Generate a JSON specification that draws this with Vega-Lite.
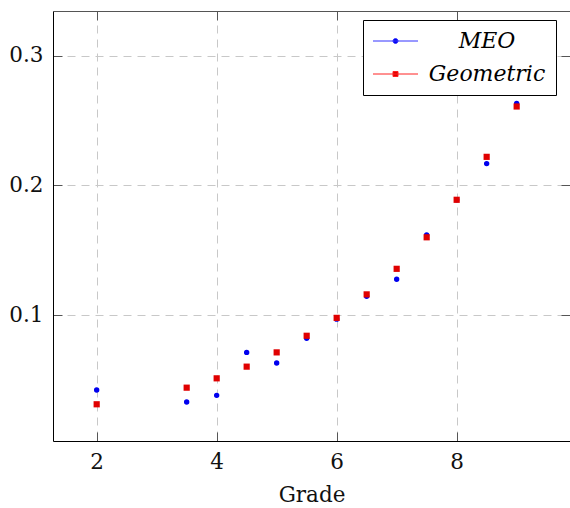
{
  "$schema": "https://vega.github.io/schema/vega-lite/v6.json",
  "width": 517,
  "height": 430,
  "autosize": "none",
  "padding": {"left": 53, "top": 11, "right": 0, "bottom": 67},
  "background": "white",
  "config": {"view": {"stroke": null}, "font": "DejaVu Serif"},
  "data": {"values": [
    {"grade": 2, "value": 0.0423, "series": "MEO"},
    {"grade": 3.5, "value": 0.0331, "series": "MEO"},
    {"grade": 4, "value": 0.0382, "series": "MEO"},
    {"grade": 4.5, "value": 0.0713, "series": "MEO"},
    {"grade": 5, "value": 0.0631, "series": "MEO"},
    {"grade": 5.5, "value": 0.0821, "series": "MEO"},
    {"grade": 6, "value": 0.0969, "series": "MEO"},
    {"grade": 6.5, "value": 0.1145, "series": "MEO"},
    {"grade": 7, "value": 0.1277, "series": "MEO"},
    {"grade": 7.5, "value": 0.1619, "series": "MEO"},
    {"grade": 8, "value": 0.1889, "series": "MEO"},
    {"grade": 8.5, "value": 0.2168, "series": "MEO"},
    {"grade": 9, "value": 0.2631, "series": "MEO"},
    {"grade": 2, "value": 0.0313, "series": "Geometric"},
    {"grade": 3.5, "value": 0.0441, "series": "Geometric"},
    {"grade": 4, "value": 0.0513, "series": "Geometric"},
    {"grade": 4.5, "value": 0.0603, "series": "Geometric"},
    {"grade": 5, "value": 0.0713, "series": "Geometric"},
    {"grade": 5.5, "value": 0.0841, "series": "Geometric"},
    {"grade": 6, "value": 0.0979, "series": "Geometric"},
    {"grade": 6.5, "value": 0.1160, "series": "Geometric"},
    {"grade": 7, "value": 0.1357, "series": "Geometric"},
    {"grade": 7.5, "value": 0.1600, "series": "Geometric"},
    {"grade": 8, "value": 0.1889, "series": "Geometric"},
    {"grade": 8.5, "value": 0.2220, "series": "Geometric"},
    {"grade": 9, "value": 0.2608, "series": "Geometric"}
  ]},
  "layer": [
    {
      "mark": {"type": "point", "opacity": 0},
      "encoding": {
        "x": {"field": "grade", "type": "quantitative",
          "scale": {"domain": [1.272, 9.889], "nice": false, "zero": false},
          "axis": {"orient": "top", "title": null, "labels": false, "grid": false, "values": [2, 4, 6, 8],
            "tickSize": -9, "tickColor": "#555", "domainColor": "#555", "domainWidth": 1}},
        "y": {"field": "value", "type": "quantitative",
          "scale": {"domain": [0.003, 0.3344], "nice": false, "zero": false},
          "axis": {"orient": "right", "title": null, "labels": false, "grid": false, "values": [0.1, 0.2, 0.3],
            "tickSize": -9, "tickColor": "#555", "domainColor": "#555", "domainWidth": 1}}
      }
    },
    {
      "transform": [{"filter": "datum.series === 'MEO'"}],
      "mark": {"type": "point", "filled": true, "opacity": 1, "size": 29, "shape": "circle", "color": "#0000ee"},
      "encoding": {
        "x": {"field": "grade", "type": "quantitative",
          "scale": {"domain": [1.272, 9.889], "nice": false, "zero": false},
          "axis": {"orient": "bottom", "title": "Grade", "values": [2, 4, 6, 8], "format": "d",
            "labelFont": "DejaVu Serif", "labelFontSize": 21.5, "labelColor": "#111", "labelPadding": 19,
            "titleFont": "DejaVu Serif", "titleFontSize": 21.5, "titleFontWeight": "normal", "titleColor": "#111", "titlePadding": 12,
            "tickSize": -9, "tickColor": "#555", "domainColor": "#000", "domainWidth": 1,
            "grid": true, "gridColor": "#c8c8c8", "gridDash": [8, 6], "gridWidth": 1}},
        "y": {"field": "value", "type": "quantitative",
          "scale": {"domain": [0.003, 0.3344], "nice": false, "zero": false},
          "axis": {"orient": "left", "title": null, "values": [0.1, 0.2, 0.3], "format": ".1f",
            "labelFont": "DejaVu Serif", "labelFontSize": 21.5, "labelColor": "#111", "labelPadding": 19,
            "tickSize": -9, "tickColor": "#555", "domainColor": "#000", "domainWidth": 1,
            "grid": true, "gridColor": "#c8c8c8", "gridDash": [8, 6], "gridWidth": 1}}
      }
    },
    {
      "transform": [{"filter": "datum.series === 'Geometric'"}],
      "mark": {"type": "point", "filled": true, "opacity": 1, "size": 29, "shape": "M-1.15,-1.15H1.15V1.15H-1.15Z", "color": "#e00000"},
      "encoding": {
        "x": {"field": "grade", "type": "quantitative", "axis": null},
        "y": {"field": "value", "type": "quantitative", "axis": null}
      }
    },
    {
      "transform": [{"filter": "datum.grade > 100"}],
      "mark": {"type": "point", "filled": true, "opacity": 1, "strokeWidth": 1},
      "encoding": {
        "fill": {"field": "series", "type": "nominal",
          "scale": {"domain": ["MEO", "Geometric"], "range": ["#0000ee", "#e00000"]},
          "legend": {"orient": "none", "legendX": 310, "legendY": 9, "title": null,
            "strokeColor": "#000", "fillColor": "white", "padding": 10,
            "labelFont": "DejaVu Serif", "labelFontStyle": "italic", "labelFontSize": 22, "labelColor": "#000",
            "labelAlign": "center", "labelOffset": 92, "rowPadding": 11, "symbolSize": 400, "labelLimit": 300,
            "symbolStrokeWidth": 1, "symbolOpacity": 1}},
        "stroke": {"field": "series", "type": "nominal",
          "scale": {"domain": ["MEO", "Geometric"], "range": ["#3333ff", "#ff2222"]}},
        "shape": {"field": "series", "type": "nominal",
          "scale": {"domain": ["MEO", "Geometric"], "range": [
            "M-1.1,0H3.4M0.9,0A0.25,0.25 0 1,1 1.4,0A0.25,0.25 0 1,1 0.9,0Z",
            "M-1.1,0H3.4M0.9,-0.25H1.4V0.25H0.9Z"]}}
      }
    }
  ],
  "resolve": {"axis": {"x": "independent", "y": "independent"}}
}
